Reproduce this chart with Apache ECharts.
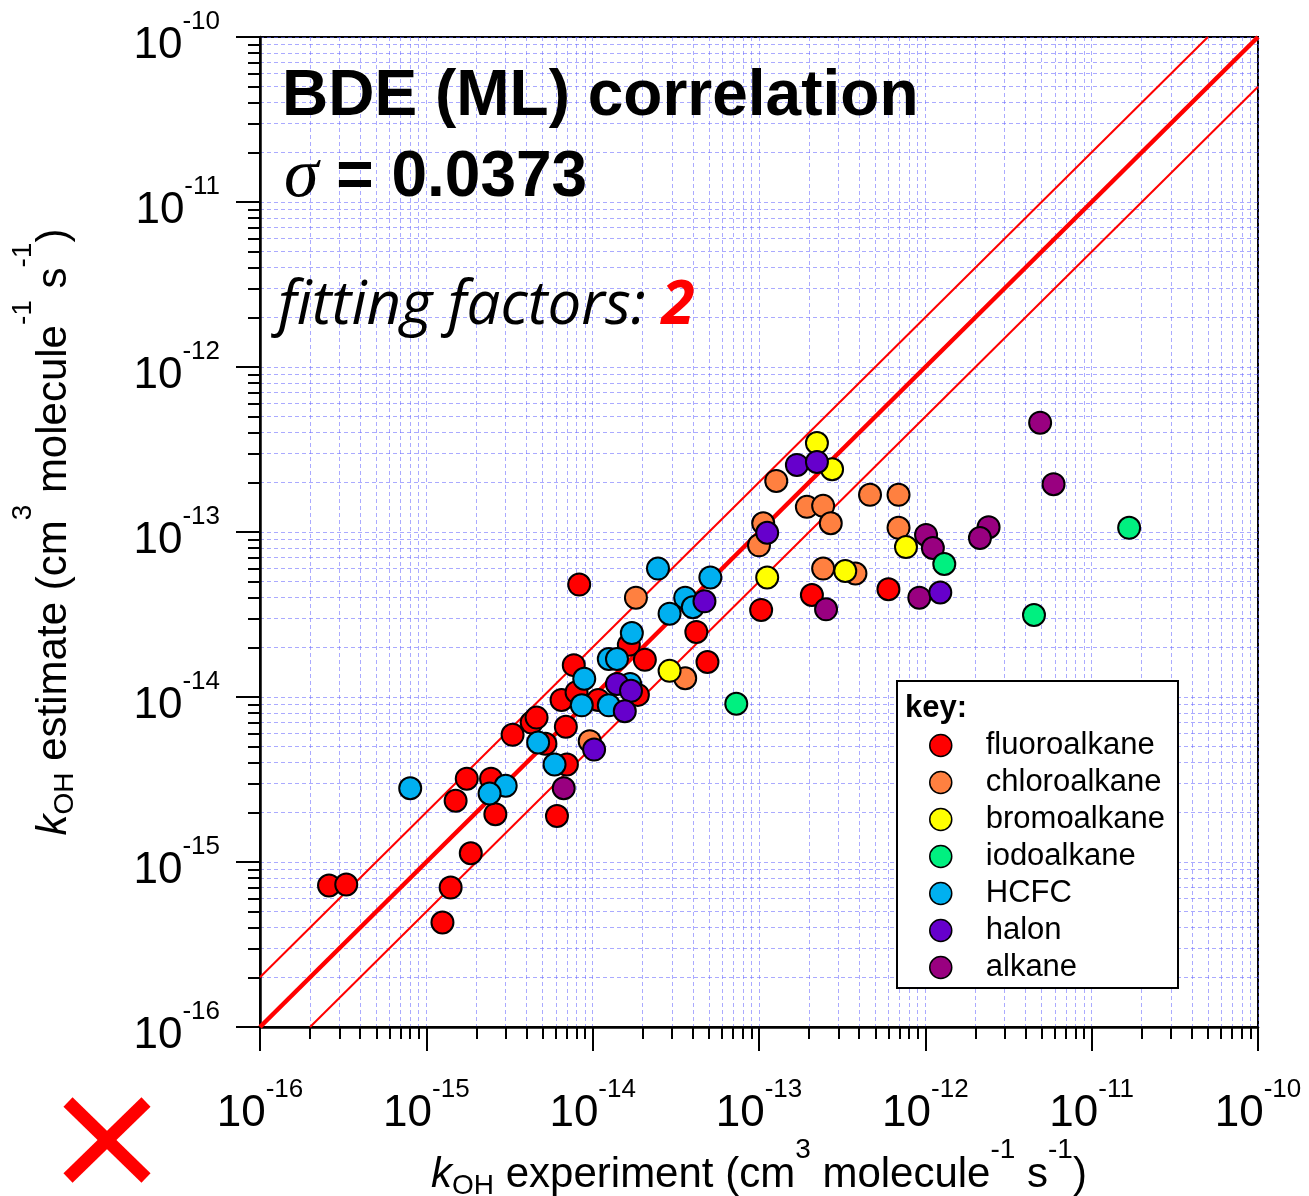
<!DOCTYPE html>
<html>
<head>
<meta charset="utf-8">
<script src="https://cdn.jsdelivr.net/npm/echarts@6/dist/echarts.min.js"></script>
<style>html,body{margin:0;padding:0;background:#fff}#chart{width:1309px;height:1196px}</style>
</head>
<body>
<div id="chart"></div>
<script>
// ---- axis decades (exponents of 10) ----
const exponents = [-16, -15, -14, -13, -12, -11, -10];
const minorMultipliers = [1, 2, 3, 4, 5, 6, 7, 8, 9];

// ---- legend names and colours ----
const seriesNames = ['fluoroalkane', 'chloroalkane', 'bromoalkane', 'iodoalkane', 'HCFC', 'halon', 'alkane'];
const seriesColors = {
  fluoroalkane: '#FF0000', chloroalkane: '#FF8040', bromoalkane: '#FFFF00',
  iodoalkane: '#00F080', HCFC: '#00B0F0', halon: '#6600CC', alkane: '#990080'
};

// ---- data: [kOH experiment, kOH estimate] ----
const fluoroalkane = [
  [2.6e-16, 7.2e-16], [3.3e-16, 7.3e-16], [1.75e-15, 3.2e-15], [1.5e-15, 2.35e-15], [2.45e-15, 3.2e-15],
  [2.6e-15, 1.95e-15], [1.85e-15, 1.13e-15], [1.4e-15, 7.0e-16], [1.25e-15, 4.3e-16], [6.1e-15, 1.9e-15],
  [3.3e-15, 5.9e-15], [4.3e-15, 7.0e-15], [4.6e-15, 7.5e-15], [5.2e-15, 5.2e-15], [7.0e-15, 3.9e-15],
  [6.9e-15, 6.6e-15], [6.5e-15, 9.6e-15], [8.0e-15, 1.07e-14], [7.7e-15, 1.56e-14], [1.08e-14, 9.6e-15],
  [1.65e-14, 2.07e-14], [2.06e-14, 1.68e-14], [1.87e-14, 1.03e-14], [4.2e-14, 2.48e-14], [4.9e-14, 1.63e-14],
  [1.03e-13, 3.37e-14], [2.08e-13, 4.15e-14], [6.0e-13, 4.5e-14], [8.3e-15, 4.8e-14]
];
const chloroalkane = [
  [9.6e-15, 5.4e-15], [1.82e-14, 4.0e-14], [3.6e-14, 1.3e-14], [1.27e-13, 2.04e-13], [1.94e-13, 1.42e-13],
  [2.43e-13, 1.44e-13], [2.7e-13, 1.13e-13], [1.06e-13, 1.13e-13], [1.0e-13, 8.3e-14], [2.43e-13, 6.0e-14],
  [3.8e-13, 5.6e-14], [4.65e-13, 1.68e-13], [6.9e-13, 1.68e-13], [6.9e-13, 1.06e-13]
];
const bromoalkane = [
  [2.9e-14, 1.44e-14], [1.12e-13, 5.3e-14], [2.23e-13, 3.46e-13], [2.75e-13, 2.4e-13], [3.3e-13, 5.8e-14],
  [7.65e-13, 8.1e-14]
];
const iodoalkane = [
  [7.3e-14, 9.1e-15], [1.3e-12, 6.4e-14], [4.5e-12, 3.14e-14], [1.68e-11, 1.06e-13]
];
const HCFC = [
  [8.0e-16, 2.8e-15], [3.0e-15, 2.9e-15], [2.4e-15, 2.6e-15], [4.7e-15, 5.3e-15], [5.9e-15, 3.9e-15],
  [8.6e-15, 8.9e-15], [8.9e-15, 1.29e-14], [1.25e-14, 8.9e-15], [1.25e-14, 1.7e-14], [1.4e-14, 1.7e-14],
  [1.72e-14, 2.44e-14], [1.68e-14, 1.2e-14], [2.47e-14, 6.0e-14], [5.1e-14, 5.3e-14], [3.6e-14, 4.0e-14],
  [2.9e-14, 3.2e-14], [4.0e-14, 3.5e-14]
];
const halon = [
  [1.02e-14, 4.8e-15], [1.4e-14, 1.2e-14], [1.7e-14, 1.09e-14], [1.56e-14, 8.2e-15], [4.7e-14, 3.8e-14],
  [1.12e-13, 9.9e-14], [1.69e-13, 2.55e-13], [2.23e-13, 2.66e-13], [1.23e-12, 4.3e-14]
];
const alkane = [
  [6.7e-15, 2.8e-15], [2.53e-13, 3.4e-14], [9.2e-13, 4.0e-14], [1.01e-12, 9.6e-14], [1.11e-12, 8.0e-14],
  [2.4e-12, 1.07e-13], [2.13e-12, 9.2e-14], [4.9e-12, 4.6e-13], [5.9e-12, 1.95e-13]
];

// ---- reference lines (1:1 and factor-of-2 bounds) ----
const oneToOneLine = [[1e-16, 1e-16], [1e-10, 1e-10]];
const upperFactorLine = [[1e-16, 2e-16], [5e-11, 1e-10]];
const lowerFactorLine = [[2e-16, 1e-16], [1e-10, 5e-11]];

// data are shown on logarithmic axes: each axis works in log10 units
const toLog = arr => arr.map(p => [Math.log10(p[0]), Math.log10(p[1])]);

const allTickPositions = [];
exponents.forEach(e => {
  if (e < exponents[exponents.length - 1]) minorMultipliers.forEach(m => allTickPositions.push(e + Math.log10(m)));
});
allTickPositions.push(exponents[exponents.length - 1]);

const FONT = 'Liberation Sans';
const gridLine = { color: 'rgba(100,100,255,0.55)', width: 1, type: [4, 3] };

const tickRich = {
  b: { fontSize: 44, fontFamily: FONT, color: '#000', lineHeight: 46, verticalAlign: 'middle' },
  s: { fontSize: 26, fontFamily: FONT, color: '#000', lineHeight: 26, padding: [0, 0, 48, 0], verticalAlign: 'middle' }
};
const tickFormatter = v => '{b|10}{s|' + Math.round(v) + '}';

function nameRich(supPad) {
  return {
    m: { fontSize: 42, fontFamily: FONT, color: '#000', lineHeight: 44, verticalAlign: 'middle' },
    k: { fontSize: 42, fontFamily: FONT, fontStyle: 'italic', color: '#000', lineHeight: 44, verticalAlign: 'middle' },
    sub: { fontSize: 28, fontFamily: FONT, color: '#000', lineHeight: 28, padding: [22, 0, 0, 0], verticalAlign: 'middle' },
    sup: { fontSize: 28, fontFamily: FONT, color: '#000', lineHeight: 28, padding: [0, 0, supPad, 0], verticalAlign: 'middle' }
  };
}

const minorAxisCommon = {
  type: 'value', min: exponents[0], max: exponents[exponents.length - 1], interval: 1,
  axisLine: { show: true, onZero: false, lineStyle: { color: '#000', width: 2.5 } },
  axisTick: { show: true, customValues: allTickPositions, length: 12, lineStyle: { color: '#000', width: 2 } },
  axisLabel: { show: false },
  splitLine: { show: true, lineStyle: gridLine }
};
const majorAxisCommon = {
  type: 'value', min: exponents[0], max: exponents[exponents.length - 1], interval: 1, offset: 0,
  axisLine: { show: false, onZero: false },
  axisTick: { show: true, length: 24, lineStyle: { color: '#000', width: 2 } },
  splitLine: { show: false }
};

const scatterOrder = [
  ['fluoroalkane', fluoroalkane], ['chloroalkane', chloroalkane], ['bromoalkane', bromoalkane],
  ['alkane', alkane], ['iodoalkane', iodoalkane], ['HCFC', HCFC], ['halon', halon]
];

const series = [
  { type: 'line', data: toLog(upperFactorLine), symbol: 'none', lineStyle: { color: '#FF0000', width: 2 }, silent: true, z: 1 },
  { type: 'line', data: toLog(lowerFactorLine), symbol: 'none', lineStyle: { color: '#FF0000', width: 2 }, silent: true, z: 1 },
  { type: 'line', data: toLog(oneToOneLine), symbol: 'none', lineStyle: { color: '#FF0000', width: 4.5 }, silent: true, z: 1 }
].concat(scatterOrder.map(([name, arr]) => ({
  type: 'scatter', name: name, data: toLog(arr), symbol: 'circle', symbolSize: 22, z: 3,
  itemStyle: { color: seriesColors[name], borderColor: '#000', borderWidth: 2, opacity: 1 }
})));

const chart = echarts.init(document.getElementById('chart'), null, { renderer: 'canvas' });
chart.setOption({
  animation: false,
  backgroundColor: '#fff',
  grid: { left: 260, top: 37, right: 51, bottom: 169, containLabel: false, outerBoundsMode: 'none',
          show: true, borderColor: '#000', borderWidth: 2, backgroundColor: 'transparent' },
  xAxis: [
    Object.assign({}, minorAxisCommon, { position: 'bottom' }),
    Object.assign({}, majorAxisCommon, {
      position: 'bottom',
      axisLabel: { show: true, margin: 64, formatter: tickFormatter, rich: tickRich },
      name: '{k|k}{sub|OH}{m| experiment (cm}{sup|3}{m| molecule}{sup|-1}{m| s}{sup|-1}{m|)}',
      nameLocation: 'middle', nameGap: 126, nameMoveOverlap: false,
      nameTextStyle: { rich: nameRich(50) }
    })
  ],
  yAxis: [
    Object.assign({}, minorAxisCommon, { position: 'left' }),
    Object.assign({}, majorAxisCommon, {
      position: 'left',
      axisLabel: { show: true, margin: 40, formatter: tickFormatter, rich: tickRich, padding: [18, 0, 0, 0] },
      name: '{k|k}{sub|OH}{m| estimate (cm}{sup|3}{m| molecule}{sup|-1}{m| s}{sup|-1}{m|)}',
      nameLocation: 'middle', nameGap: 184, nameRotate: 90, nameMoveOverlap: false,
      nameTextStyle: { rich: nameRich(62) }
    })
  ],
  legend: {
    data: seriesNames, orient: 'vertical', left: 929, top: 727, itemWidth: 22, itemHeight: 22, itemGap: 0,
    padding: 0, selectedMode: false, icon: 'circle', z: 8,
    itemStyle: { borderWidth: 1.5, borderColor: '#000' },
    textStyle: { fontSize: 31, fontFamily: FONT, color: '#000', lineHeight: 37, padding: [0, 0, 0, 29] }
  },
  graphic: [
    { type: 'rect', z: 6, shape: { x: 897, y: 681, width: 281, height: 307 },
      style: { fill: '#fff', stroke: '#000', lineWidth: 2 } },
    { type: 'text', z: 7, x: 905, y: 708,
      style: { text: 'key:', fontSize: 31, fontWeight: 'bold', fontFamily: FONT, fill: '#000', verticalAlign: 'middle' } },
    { type: 'text', z: 7, x: 282, y: 97,
      style: { text: 'BDE (ML) correlation', fontSize: 64, fontWeight: 'bold', fontFamily: FONT, fill: '#000', verticalAlign: 'middle' } },
    { type: 'text', z: 7, x: 284, y: 178,
      style: { text: '{s|σ}{t| = 0.0373}', verticalAlign: 'middle',
        rich: {
          s: { fontSize: 70, fontStyle: 'italic', fontFamily: 'Liberation Serif', fill: '#000' },
          t: { fontSize: 64, fontWeight: 'bold', fontFamily: FONT, fill: '#000' }
        } } },
    { type: 'text', z: 7, x: 278, y: 307,
      style: { text: '{a|fitting factors: }{b|2}', verticalAlign: 'middle',
        rich: {
          a: { fontSize: 60, fontStyle: 'italic', fontFamily: 'Open Sans', fill: '#000' },
          b: { fontSize: 60, fontStyle: 'italic', fontWeight: 'bold', fontFamily: 'Open Sans', fill: '#FF0000' }
        } } },
    { type: 'line', z: 7, shape: { x1: 68, y1: 1102, x2: 146, y2: 1178 }, style: { stroke: '#FF0000', lineWidth: 13 } },
    { type: 'line', z: 7, shape: { x1: 146, y1: 1102, x2: 68, y2: 1178 }, style: { stroke: '#FF0000', lineWidth: 13 } }
  ],
  series: series
});
</script>
</body>
</html>
